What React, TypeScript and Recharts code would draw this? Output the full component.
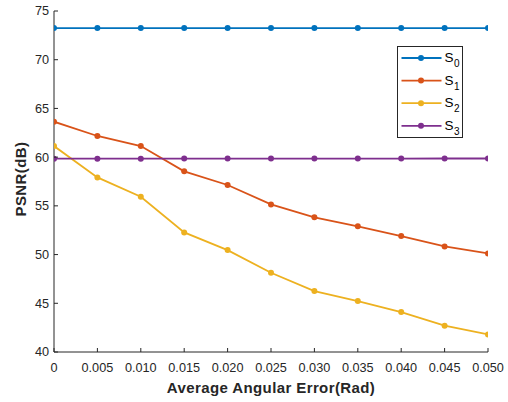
import React from 'react';
import { LineChart, Line, XAxis, YAxis } from 'recharts';

const xValues = [0, 0.005, 0.01, 0.015, 0.02, 0.025, 0.03, 0.035, 0.04, 0.045, 0.05];
const s0 = [73.25, 73.25, 73.25, 73.25, 73.25, 73.25, 73.25, 73.25, 73.25, 73.25, 73.25];
const s1 = [63.64, 62.17, 61.14, 58.54, 57.14, 55.15, 53.82, 52.9, 51.9, 50.84, 50.12];
const s2 = [61.14, 57.92, 55.94, 52.27, 50.46, 48.13, 46.25, 45.23, 44.1, 42.7, 41.8];
const s3 = [59.84, 59.84, 59.84, 59.85, 59.85, 59.85, 59.85, 59.85, 59.85, 59.86, 59.86];

const xTicks = [0, 0.005, 0.01, 0.015, 0.02, 0.025, 0.03, 0.035, 0.04, 0.045, 0.05];
const yTicks = [40, 45, 50, 55, 60, 65, 70, 75];

const seriesNames = ['S0', 'S1', 'S2', 'S3'];
const seriesKeys = ['s0', 's1', 's2', 's3'];
const seriesColors = ['#0072BD', '#D95319', '#EDB120', '#7E2F8E'];
const seriesValues = [s0, s1, s2, s3];

const data = xValues.map((x, i) => {
  const row: Record<string, number> = { x };
  seriesKeys.forEach((k, j) => {
    row[k] = seriesValues[j][i];
  });
  return row;
});

const FONT = '"Liberation Sans", Arial, Helvetica, sans-serif';
const AXIS = '#262626';

const XTick = (props: any) => {
  const { x, y, payload } = props;
  const v = payload.value as number;
  const label = v === 0 ? '0' : v.toFixed(3);
  return (
    <g>
      <line x1={x} x2={x} y1={y} y2={y - 4} stroke={AXIS} strokeWidth={1} />
      <text x={x} y={y + 19.5} textAnchor="middle" fontSize={12.7} fontFamily={FONT} fill={AXIS}>
        {label}
      </text>
    </g>
  );
};

const YTick = (props: any) => {
  const { x, y, payload } = props;
  return (
    <g>
      <line x1={x} x2={x + 4} y1={y} y2={y} stroke={AXIS} strokeWidth={1} />
      <text x={x - 5} y={y + 4.4} textAnchor="end" fontSize={12.7} fontFamily={FONT} fill={AXIS}>
        {String(payload.value)}
      </text>
    </g>
  );
};

const LegendBox = () => (
  <svg
    width={67}
    height={93}
    style={{ position: 'absolute', left: 396.5, top: 46.2, overflow: 'visible' }}
  >
    <rect x={0.5} y={0.5} width={65} height={91} fill="#fff" stroke={AXIS} strokeWidth={1} />
    {seriesNames.map((name, i) => {
      const cy = 12 + i * 22.6;
      return (
        <g key={name}>
          <line x1={4.5} x2={44.5} y1={cy} y2={cy} stroke={seriesColors[i]} strokeWidth={1.8} />
          <circle cx={24} cy={cy} r={3} fill={seriesColors[i]} />
          <text x={47.5} y={cy + 4} fontSize={13.5} fontFamily={FONT} fill="#000">
            {name.charAt(0)}
            <tspan fontSize={10} dx={0.5} dy={5}>
              {name.slice(1)}
            </tspan>
          </text>
        </g>
      );
    })}
  </svg>
);

export default function App() {
  return (
    <div style={{ position: 'absolute', left: 0, top: 0, width: 508, height: 402, background: '#fff' }}>
      <LineChart
        width={508}
        height={402}
        data={data}
        margin={{ top: 11, right: 20, left: 0, bottom: 0 }}
      >
        <XAxis
          dataKey="x"
          type="number"
          domain={[0, 0.05]}
          ticks={xTicks}
          tickSize={0}
          tickMargin={0}
          tickLine={false}
          tick={<XTick />}
          height={50}
          axisLine={{ stroke: AXIS, strokeWidth: 1 }}
          interval={0}
          allowDataOverflow
          label={() => (
            <text
              x={271}
              y={393}
              textAnchor="middle"
              fontSize={15}
              fontWeight="bold"
              fontFamily={FONT}
              fill={AXIS}
              letterSpacing={0.4}
            >
              Average Angular Error(Rad)
            </text>
          )}
        />
        <YAxis
          type="number"
          domain={[40, 75]}
          ticks={yTicks}
          tickSize={0}
          tickMargin={0}
          tickLine={false}
          tick={<YTick />}
          width={54}
          axisLine={{ stroke: AXIS, strokeWidth: 1 }}
          interval={0}
          allowDataOverflow
          label={() => (
            <text
              x={26}
              y={179}
              textAnchor="middle"
              fontSize={15}
              fontWeight="bold"
              fontFamily={FONT}
              fill={AXIS}
              letterSpacing={0.4}
              transform="rotate(-90, 26, 179)"
            >
              PSNR(dB)
            </text>
          )}
        />
        {seriesKeys.map((k, i) => (
          <Line
            key={k}
            dataKey={k}
            type="linear"
            stroke={seriesColors[i]}
            strokeWidth={1.8}
            dot={{ r: 3, fill: seriesColors[i], stroke: seriesColors[i], strokeWidth: 0 }}
            activeDot={false}
            isAnimationActive={false}
          />
        ))}
      </LineChart>
      <LegendBox />
    </div>
  );
}
